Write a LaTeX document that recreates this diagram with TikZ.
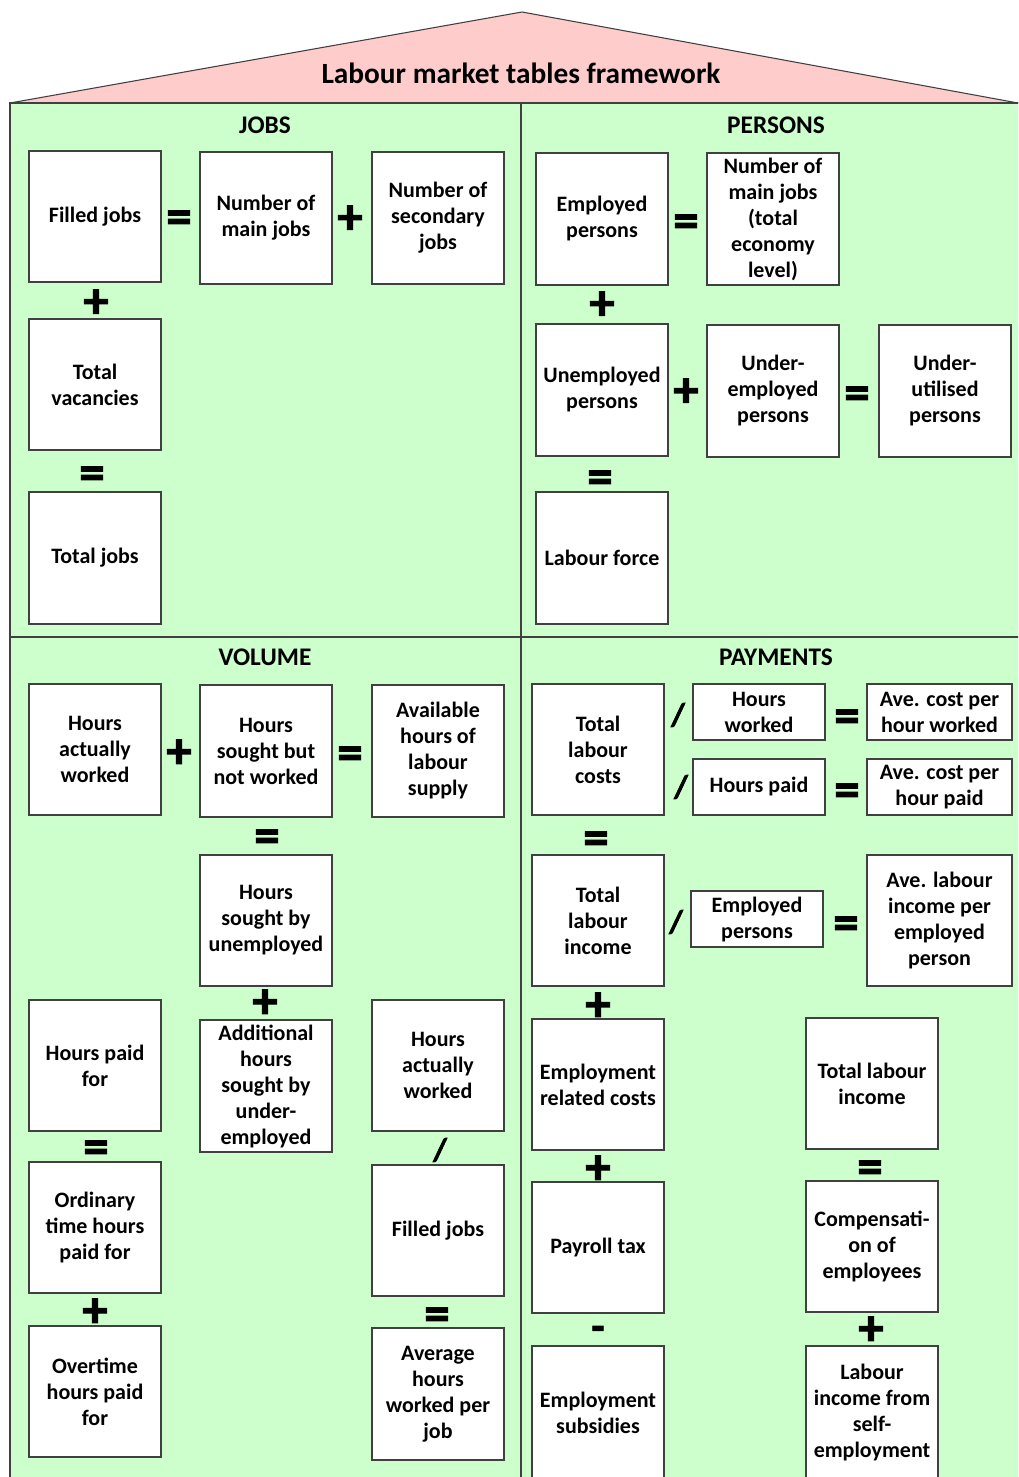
\documentclass[tikz,border=0pt]{standalone}
\usepackage{fontspec}
\setmainfont{Carlito}
\newfontfamily\opfont[FakeBold=2]{Carlito Bold}
\definecolor{bg}{HTML}{CCFFCC}
\definecolor{roofc}{HTML}{FFCCCC}
\definecolor{edge}{HTML}{404040}
\tikzset{
 box/.style={draw=edge, fill=white, line width=0.8pt, inner sep=0pt, align=center, font=\fontsize{16.5}{19.5}\selectfont\bfseries},
 op/.style={inner sep=0pt, font=\fontsize{38}{38}\opfont},
 eq/.style={op, yshift=-4.5pt},
 pl/.style={op, yshift=-2pt},
 slash/.style={inner sep=0pt, font=\fontsize{24}{24}\opfont},
 minus/.style={inner sep=0pt, font=\fontsize{32}{32}\opfont, yshift=-4pt},
 head/.style={inner sep=0pt, font=\fontsize{19}{19}\selectfont\bfseries},
 frame/.style={draw=edge, line width=0.8pt},
}
\newcommand\bx[6]{\node[box, minimum width={(#4-#2)*0.75pt}, minimum height={(#5-#3)*0.75pt}] (#1) at ({(#2+#4)/2},{(#3+#5)/2}) {#6};}
\begin{document}
\begin{tikzpicture}[x=0.75pt,y=-0.75pt]
\clip (0,0) rectangle (1018,1477);
\fill[white] (0,0) rectangle (1018,1477);
% roof
\filldraw[frame, fill=roofc] (10,103) coordinate (rl) -- (522,12) coordinate (rt) -- (1018,103) coordinate (rr) -- cycle;
\node[inner sep=0pt, font=\fontsize{22}{22}\selectfont\bfseries] (title) at (521,73) {Labour market tables framework};
% body
\filldraw[frame, fill=bg] (10,103) rectangle (1030,1490);
\draw[frame] (521,103) coordinate (vt) -- (521,1490) coordinate (vb);
\draw[frame] (10,637) coordinate (hl) -- (1030,637) coordinate (hr);
\node[head] (hjobs) at (265,125) {JOBS};
\node[head] (hpers) at (776,125) {PERSONS};
\node[head] (hvol) at (265,657) {VOLUME};
\node[head] (hpay) at (776,657) {PAYMENTS};
% JOBS
\bx{filled}{29}{151}{161}{282}{Filled jobs}
\bx{mainj}{200}{152}{332}{284}{Number of\\main jobs}
\bx{secj}{372}{152}{504}{284}{Number of\\secondary\\jobs}
\node[eq] (j1) at (179,216) {=};
\node[pl] (j2) at (350,217) {+};
\node[pl] (j3) at (96,301) {+};
\bx{vac}{29}{319}{161}{450}{Total\\vacancies}
\node[eq] (j4) at (92,472) {=};
\bx{totj}{29}{492}{161}{624}{Total jobs}
% PERSONS
\bx{emp}{536}{153}{668}{285}{Employed\\persons}
\node[eq] (p1) at (686,220) {=};
\bx{mainje}{707}{153}{839}{285}{Number of\\main jobs\\(total\\economy\\level)}
\node[pl] (p2) at (602,303) {+};
\bx{unemp}{536}{324}{668}{456}{Unemployed\\persons}
\node[pl] (p3) at (686,390) {+};
\bx{under}{707}{325}{839}{457}{Under-\\employed\\persons}
\node[eq] (p4) at (857,392) {=};
\bx{util}{879}{325}{1011}{457}{Under-\\utilised\\persons}
\node[eq] (p5) at (600,476) {=};
\bx{lf}{536}{492}{668}{624}{Labour force}
% VOLUME
\bx{haw}{29}{684}{161}{815}{Hours\\actually\\worked}
\node[pl] (v1) at (179,751) {+};
\bx{hsnw}{200}{685}{332}{817}{Hours\\sought but\\not worked}
\node[eq] (v2) at (350,752) {=};
\bx{avail}{372}{685}{504}{817}{Available\\hours of\\labour\\supply}
\node[eq] (v3) at (267,835) {=};
\bx{hsu}{200}{855}{332}{986}{Hours\\sought by\\unemployed}
\node[pl] (v4) at (265,1001) {+};
\bx{addh}{200}{1020}{332}{1152}{Additional\\hours\\sought by\\under-\\employed}
\bx{hpf}{29}{1000}{161}{1131}{Hours paid\\for}
\node[eq] (v5) at (96,1146) {=};
\bx{ord}{29}{1162}{161}{1293}{Ordinary\\time hours\\paid for}
\node[pl] (v6) at (95,1310) {+};
\bx{over}{29}{1326}{161}{1457}{Overtime\\hours paid\\for}
\bx{haw2}{372}{1000}{504}{1131}{Hours\\actually\\worked}
\node[slash] (v7) at (440,1150) {/};
\bx{filled2}{372}{1165}{504}{1296}{Filled jobs}
\node[eq] (v8) at (437,1313) {=};
\bx{avgh}{372}{1328}{504}{1460}{Average\\hours\\worked per\\job}
% PAYMENTS
\bx{tlc}{532}{684}{664}{815}{Total\\labour\\costs}
\node[slash] (q1) at (678,715) {/};
\node[slash] (q2) at (681,787) {/};
\bx{hw}{693}{684}{825}{740}{Hours\\worked}
\node[eq] (q3) at (847,715) {=};
\bx{achw}{867}{684}{1012}{740}{Ave. cost per\\hour worked}
\bx{hp}{693}{759}{825}{815}{Hours paid}
\node[eq] (q4) at (847,789) {=};
\bx{achp}{867}{759}{1012}{815}{Ave. cost per\\hour paid}
\node[eq] (q5) at (596,837) {=};
\bx{tli}{532}{855}{664}{986}{Total\\labour\\income}
\node[slash] (q6) at (676,922) {/};
\bx{emp2}{691}{891}{823}{947}{Employed\\persons}
\node[eq] (q7) at (846,922) {=};
\bx{ali}{867}{855}{1012}{986}{Ave. labour\\income per\\employed\\person}
\node[pl] (q8) at (598,1004) {+};
\bx{erc}{532}{1019}{664}{1150}{Employment\\related costs}
\node[pl] (q9) at (598,1167) {+};
\bx{ptax}{532}{1182}{664}{1313}{Payroll tax}
\node[minus] (q10) at (598,1328) {-};
\bx{subs}{532}{1346}{664}{1479}{Employment\\subsidies}
\bx{tli2}{806}{1018}{938}{1149}{Total labour\\income}
\node[eq] (q11) at (870,1166) {=};
\bx{coe}{806}{1181}{938}{1312}{Compensati-\\on of\\employees}
\node[pl] (q12) at (871,1328) {+};
\bx{self}{806}{1346}{938}{1479}{Labour\\income from\\self-\\employment}
\end{tikzpicture}
\end{document}
